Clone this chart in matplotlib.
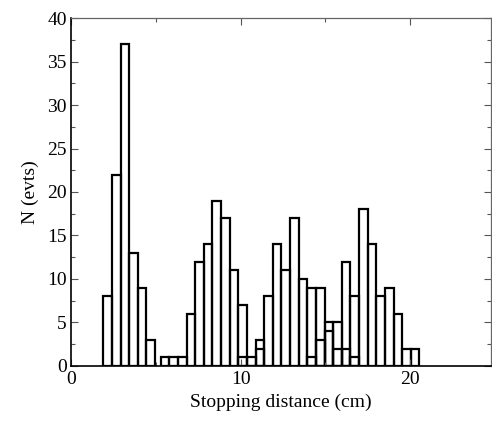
import numpy as np
import matplotlib
matplotlib.use("Agg")
from matplotlib import pyplot as plt
from matplotlib.ticker import MultipleLocator

# bin width (cm)
bin_width = 0.51

# group 1 (shortest range)
g1_start = 1.88
g1_counts = [8, 22, 37, 13, 9, 3]

# group 2
g2_start = 5.27
g2_counts = [1, 1, 1, 6, 12, 14, 19, 17, 11, 7, 0, 2]

# group 3
g3_start = 5.27 + 9 * 0.51
g3_counts = [1, 1, 3, 8, 14, 11, 17, 10, 9, 9, 5, 2, 2, 1]

# group 4
g4_start = 5.27 + 17 * 0.51
g4_counts = [1, 3, 4, 5, 12, 8, 18, 14, 8, 9, 6, 2, 2]

groups = [(g1_start, g1_counts), (g2_start, g2_counts),
          (g3_start, g3_counts), (g4_start, g4_counts)]

plt.rcParams['font.family'] = ['Liberation Serif', 'DejaVu Serif']

fig = plt.figure(figsize=(4.92, 4.23), dpi=100)
ax = fig.add_axes([0.1453, 0.1348, 0.998 - 0.1453, 0.9574 - 0.1348])

for start, counts in groups:
    left = start + bin_width * np.arange(len(counts))
    ax.bar(left, counts, width=bin_width, align='edge', fill=False,
           edgecolor='black', linewidth=1.6)

ax.set_xlim(0, 24.8)
ax.set_ylim(0, 40)

ax.xaxis.set_major_locator(MultipleLocator(10))
ax.xaxis.set_minor_locator(MultipleLocator(5))
ax.yaxis.set_major_locator(MultipleLocator(5))
ax.yaxis.set_minor_locator(MultipleLocator(2.5))
ax.tick_params(which='both', direction='in', top=True, right=True,
               labelsize=14, width=0.8, color='#555555')
ax.tick_params(which='major', length=5)
ax.tick_params(which='minor', length=3)

for side in ['top', 'right']:
    ax.spines[side].set_color('#666666')
    ax.spines[side].set_linewidth(0.9)
for side in ['left', 'bottom']:
    ax.spines[side].set_color('black')
    ax.spines[side].set_linewidth(1.2)

ax.set_xlabel('Stopping distance (cm)', fontsize=14, labelpad=4)
ax.set_ylabel('N (evts)', fontsize=14, labelpad=6)

fig.savefig('out.png', dpi=100)
